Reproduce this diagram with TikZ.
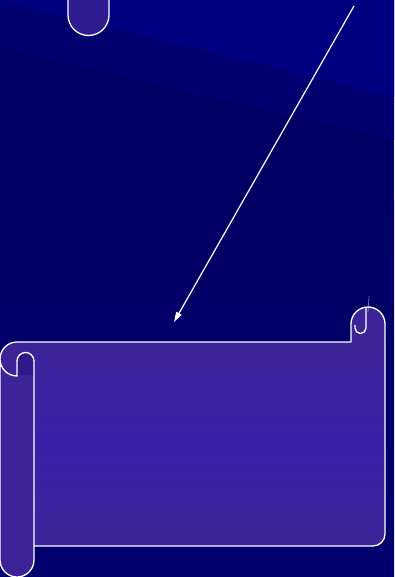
\documentclass[tikz,border=0pt]{standalone}
\usetikzlibrary{arrows.meta}
\definecolor{bgA}{RGB}{0,0,128}
\definecolor{bgB}{RGB}{0,0,112}
\definecolor{bgC}{RGB}{0,0,100}
\definecolor{bgD}{RGB}{0,0,112}
\definecolor{scrollfill}{RGB}{60,36,152}
\definecolor{scrollmid}{RGB}{58,32,168}
\definecolor{tabfill}{RGB}{48,28,146}
\definecolor{curlfill}{RGB}{46,26,138}
\tikzset{
  outline/.style={draw=white, line width=1.3pt, line join=round},
  pointer/.style={draw=white, line width=1.2pt, -{Triangle[length=10pt,width=6pt]}},
}
\begin{document}
\begin{tikzpicture}[x=1pt,y=-1pt]
\useasboundingbox (0,0) rectangle (394,577);
% background
\fill[bgC] (0,0) rectangle (394,577);
\shade[top color=bgC, bottom color=bgD] (0,200) rectangle (394,577);
\fill[bgB] (0,48) -- (394,140) -- (394,0) -- (0,0) -- cycle;
\fill[bgA] (0,0) -- (394,97) -- (394,0) -- cycle;
% top tab
\fill[tabfill] (68,0) -- (68,15) arc[start angle=180,end angle=0,radius=20.5] -- (109,0) -- cycle;
\draw[outline] (68,0) -- (68,15) arc[start angle=180,end angle=0,radius=20.5] -- (109,0);
% scroll fills
\shade[top color=scrollfill, bottom color=scrollfill, middle color=scrollmid]
  (17,342) -- (373,342) -- (385,342) -- (385,534) arc[start angle=0,end angle=90,radius=12] -- (17,546) -- cycle;
\fill[scrollfill] (368,324) circle[radius=17];
\fill[scrollfill] (351,324) rectangle (385,342);
\fill[scrollfill] (17,359) circle[radius=17];
\fill[scrollfill] (0,359) rectangle (34,560);
\fill[scrollfill] (17,560) circle[radius=17];
\fill[curlfill] (17,361) arc[start angle=180,end angle=360,radius=8.5] -- (34,375) -- (17,375) -- cycle;
% glint
\draw[white, opacity=0.5, line width=0.6pt] (369,296) -- (368,312);
% outlines
\draw[outline] (17,342) -- (351,342) -- (351,324)
  arc[start angle=180,end angle=360,radius=17] -- (385,534)
  arc[start angle=0,end angle=90,radius=12] -- (34,546);
\draw[outline] (366,307.2) -- (366,328) arc[start angle=0,end angle=180,radius=5.5] -- (355,325);
\draw[outline] (17,342) arc[start angle=270,end angle=90,radius=17] -- (17,361)
  arc[start angle=180,end angle=360,radius=8.5] -- (34,560)
  arc[start angle=0,end angle=180,radius=17] -- (0,359);
% arrow
\coordinate (from) at (354,6);
\coordinate (to) at (174,322);
\draw[pointer] (from) -- (to);
\end{tikzpicture}
\end{document}
